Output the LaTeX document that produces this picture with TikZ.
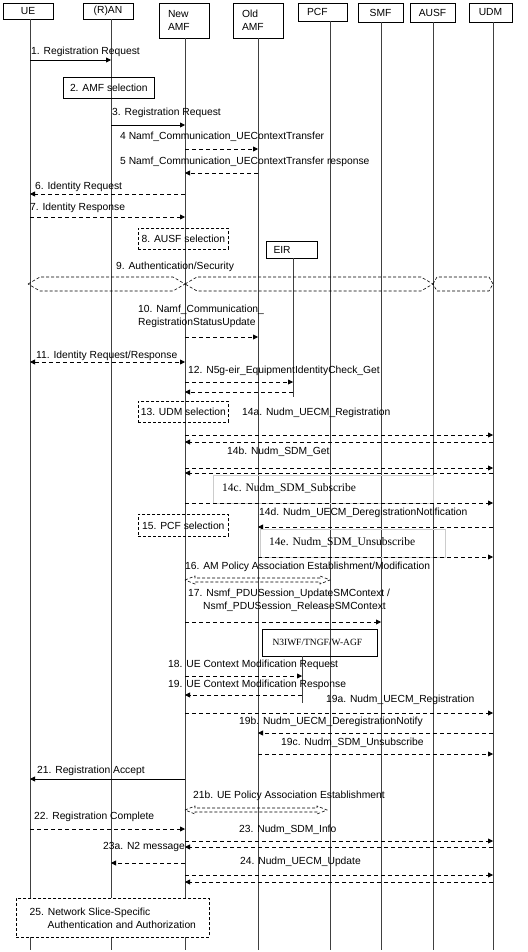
\documentclass[tikz,border=0pt]{standalone}
\usepackage{fontspec}
\setmainfont{Liberation Sans}
\newfontfamily\timesfont{Liberation Serif}
\usetikzlibrary{arrows.meta}

\begin{document}
\begin{tikzpicture}[
    x=1pt, y=-1pt,
    >={Triangle[length=5pt, width=5pt]},
    every node/.style={font=\fontsize{10.3}{13}\selectfont},
    entity/.style={draw, line width=0.8pt, inner sep=0pt, minimum width=50pt},
    lifeline/.style={line width=0.7pt, black!75},
    msgtxt/.style={anchor=west, inner sep=0pt},
    solidmsg/.style={line width=0.8pt, ->},
    dashmsg/.style={line width=0.8pt, dash pattern=on 4pt off 3pt, ->},
    dashboth/.style={line width=0.8pt, dash pattern=on 4pt off 3pt, <->},
    stepbox/.style={draw, line width=0.7pt, anchor=north west, align=left, inner xsep=2pt},
    dashbox/.style={stepbox, dash pattern=on 3pt off 2pt},
    hollow/.style={line width=0.6pt, dash pattern=on 3pt off 2pt},
    faint/.style={draw=black!20, line width=0.5pt},
]
\useasboundingbox (0,0) rectangle (527,952);

% =============================================================================
% Entities and lifelines
% =============================================================================
\node[entity, minimum height=16pt] (ue) at (28,11) {UE};
\node[entity, minimum height=16pt] (ran) at (108,11) {(R)AN};
\node[entity, minimum height=35pt, text width=32pt, align=left] (namf) at (184,20.5) {New\\AMF};
\node[entity, minimum height=35pt, text width=32pt, align=left] (oamf) at (258,20.5) {Old\\AMF};
\node[entity, minimum width=49pt, minimum height=18pt, text width=31pt, align=left] (pcf) at (322.5,12) {PCF};
\node[entity, minimum width=45pt, minimum height=19pt] (smf) at (380.5,12.5) {SMF};
\node[entity, minimum width=45pt, minimum height=19pt] (ausf) at (432.5,12.5) {AUSF};
\node[entity, minimum width=43pt, minimum height=19pt] (udm) at (490.5,12.5) {UDM};

\foreach \n/\x/\top in {ue/30/19, ran/111/19, namf/185/38, oamf/258/38,
                         pcf/330/21, smf/381/22, ausf/433/22, udm/493/22} {
    \coordinate (\n-life) at (\x,\top);
    \draw[lifeline] (\n-life) -- (\x,950);
}

% --- EIR and N3IWF/TNGF/W-AGF ---
\node[entity, minimum width=51pt, minimum height=17pt, text width=36pt, align=left] (eir) at (291.5,249.5) {EIR};
\coordinate (eir-life) at (293,258);
\draw[lifeline] (eir-life) -- (293,397);

\node[entity, minimum width=115pt, minimum height=27pt, text width=94pt, align=left,
      font=\timesfont\fontsize{9.5}{11}\selectfont] (n3iwf) at (319.5,642.5) {N3IWF/TNGF/W-AGF};
\coordinate (n3-life) at (302,656);
\draw[lifeline] (n3-life) -- (302,703);

% =============================================================================
% Registration, AMF change
% =============================================================================
\node[msgtxt] (t1) at (31,52) {1. Registration Request};
\draw[solidmsg] (ue-life |- 0,60) -- (ran-life |- 0,60);

\node[stepbox, minimum width=91pt, minimum height=21pt] (amfsel) at (63,77) {2. AMF selection};

\node[msgtxt] (t3) at (112,113) {3. Registration Request};
\draw[solidmsg] (ran-life |- 0,125) -- (namf-life |- 0,125);

\node[msgtxt] (t4) at (120,137) {4 Namf\_Communication\_UEContextTransfer};
\draw[dashmsg] (namf-life |- 0,149) -- (oamf-life |- 0,149);

\node[msgtxt] (t5) at (120,162) {5 Namf\_Communication\_UEContextTransfer response};
\draw[dashmsg] (oamf-life |- 0,173) -- (namf-life |- 0,173);

\node[msgtxt] (t6) at (35,187) {6. Identity Request};
\draw[dashmsg] (namf-life |- 0,194) -- (ue-life |- 0,194);

\node[msgtxt] (t7) at (30,208) {7. Identity Response};
\draw[dashmsg] (ue-life |- 0,217) -- (namf-life |- 0,217);

% =============================================================================
% Authentication, security, identity check
% =============================================================================
\node[dashbox, minimum width=90pt, minimum height=21pt] (ausfsel) at (138,228) {8. AUSF selection};

\node[msgtxt] (t9) at (116,267) {9. Authentication/Security};
\draw[hollow] (28,284) -- (40,277) -- (173,277) -- (185,284) -- (173,291) -- (40,291) -- cycle;
\draw[hollow] (185,284) -- (197,277) -- (421,277) -- (433,284) -- (421,291) -- (197,291) -- cycle;
\draw[hollow] (433,284) -- (437,277) -- (489,277) -- (493,284) -- (489,291) -- (437,291) -- cycle;

\node[msgtxt, align=left] (t10) at (138,316) {10. Namf\_Communication\_\\RegistrationStatusUpdate};
\draw[dashmsg] (namf-life |- 0,337) -- (oamf-life |- 0,337);

\node[msgtxt] (t11) at (36,356) {11. Identity Request/Response};
\draw[dashboth] (ue-life |- 0,362) -- (namf-life |- 0,362);

\node[msgtxt] (t12) at (188,371) {12. N5g-eir\_EquipmentIdentityCheck\_Get};
\draw[dashmsg] (namf-life |- 0,382) -- (eir-life |- 0,382);
\draw[dashmsg] (eir-life |- 0,392) -- (namf-life |- 0,392);

% =============================================================================
% UDM registration and subscription
% =============================================================================
\node[dashbox, minimum width=90pt, minimum height=21pt] (udmsel) at (138,401) {13. UDM selection};

\node[msgtxt] (t14a) at (242,413) {14a. Nudm\_UECM\_Registration};
\draw[dashmsg] (namf-life |- 0,435) -- (udm-life |- 0,435);
\draw[dashmsg] (udm-life |- 0,442) -- (namf-life |- 0,442);

\node[msgtxt] (t14b) at (227,452) {14b. Nudm\_SDM\_Get};
\draw[dashmsg] (namf-life |- 0,468) -- (udm-life |- 0,468);
\draw[dashmsg] (udm-life |- 0,473) -- (namf-life |- 0,473);

\draw[faint] (213,475) rectangle (433,503);
\node[msgtxt, font=\timesfont\fontsize{11.5}{13}\selectfont] (t14c) at (222,488) {14c. Nudm\_SDM\_Subscribe};
\draw[dashmsg] (namf-life |- 0,503) -- (udm-life |- 0,503);

\node[msgtxt] (t14d) at (259,513) {14d. Nudm\_UECM\_DeregistrationNotification};
\draw[dashmsg] (udm-life |- 0,527) -- (oamf-life |- 0,527);

\node[dashbox, minimum width=90pt, minimum height=22pt] (pcfsel) at (138,514) {15. PCF selection};

\draw[faint] (260,529) rectangle (445,557);
\node[msgtxt, font=\timesfont\fontsize{11.5}{13}\selectfont] (t14e) at (269,542) {14e. Nudm\_SDM\_Unsubscribe};
\draw[dashmsg] (oamf-life |- 0,557) -- (udm-life |- 0,557);

% =============================================================================
% Policy, SM context, access network context
% =============================================================================
\node[msgtxt] (t16) at (185,567) {16. AM Policy Association Establishment/Modification};
\draw[hollow] (185,580) -- (195,576) -- (195,578) -- (320,578) -- (320,576) -- (330,580)
    -- (320,584) -- (320,582) -- (195,582) -- (195,584) -- cycle;

\node[msgtxt, align=left] (t17) at (188,600) {17. Nsmf\_PDUSession\_UpdateSMContext /\\
    \hspace*{15pt}Nsmf\_PDUSession\_ReleaseSMContext};
\draw[dashmsg] (namf-life |- 0,622) -- (smf-life |- 0,622);

\node[msgtxt] (t18) at (168,665) {18. UE Context Modification Request};
\draw[dashmsg] (namf-life |- 0,676) -- (n3-life |- 0,676);

\node[msgtxt] (t19) at (168,685) {19. UE Context Modification Response};
\draw[dashmsg] (n3-life |- 0,695) -- (namf-life |- 0,695);

\node[msgtxt] (t19a) at (326,700) {19a. Nudm\_UECM\_Registration};
\draw[dashmsg] (namf-life |- 0,713) -- (udm-life |- 0,713);

\node[msgtxt] (t19b) at (239,722) {19b. Nudm\_UECM\_DeregistrationNotify};
\draw[dashmsg] (udm-life |- 0,733) -- (oamf-life |- 0,733);

\node[msgtxt] (t19c) at (281,743) {19c. Nudm\_SDM\_Unsubscribe};
\draw[dashmsg] (oamf-life |- 0,754) -- (udm-life |- 0,754);

% =============================================================================
% Accept, complete, final updates
% =============================================================================
\node[msgtxt] (t21) at (37,771) {21. Registration Accept};
\draw[solidmsg] (namf-life |- 0,779) -- (ue-life |- 0,779);

\node[msgtxt] (t21b) at (193,796) {21b. UE Policy Association Establishment};
\draw[hollow] (185,810) -- (195,806) -- (195,808) -- (317,808) -- (317,806) -- (327,810)
    -- (317,814) -- (317,812) -- (195,812) -- (195,814) -- cycle;

\node[msgtxt] (t22) at (34,817) {22. Registration Complete};
\draw[dashmsg] (ue-life |- 0,829) -- (namf-life |- 0,829);

\node[msgtxt] (t23) at (239,830) {23. Nudm\_SDM\_Info};
\draw[dashmsg] (namf-life |- 0,841) -- (udm-life |- 0,841);
\draw[dashmsg] (udm-life |- 0,847) -- (namf-life |- 0,847);

\node[msgtxt] (t23a) at (103,847) {23a. N2 message};
\draw[dashmsg] (namf-life |- 0,863) -- (ran-life |- 0,863);

\node[msgtxt] (t24) at (240,862) {24. Nudm\_UECM\_Update};
\draw[dashmsg] (namf-life |- 0,875) -- (udm-life |- 0,875);
\draw[dashmsg] (udm-life |- 0,882) -- (namf-life |- 0,882);

\node[dashbox, fill=white, minimum width=193pt, minimum height=39pt, inner xsep=7pt] (nssaa) at (16,898)
    {25. Network Slice-Specific\\\hspace*{18pt}Authentication and Authorization};

\end{tikzpicture}
\end{document}
